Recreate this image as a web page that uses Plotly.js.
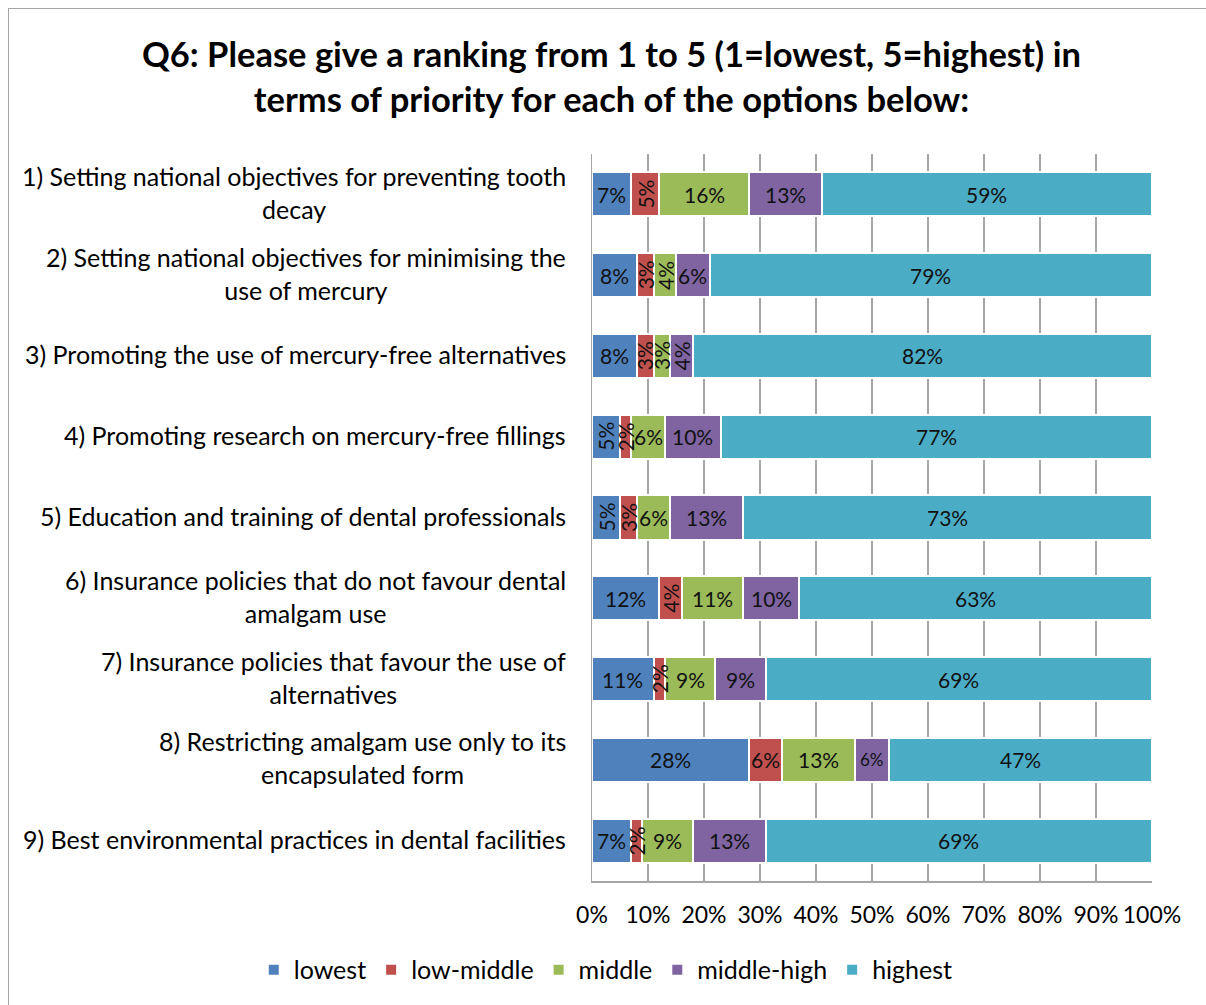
<!DOCTYPE html>
<html>
<head>
<meta charset="utf-8">
<script src="https://cdn.plot.ly/plotly-3.0.1.min.js"></script>
<style>
html,body{margin:0;padding:0;background:#fff;overflow:hidden;}
#chart{width:1206px;height:1005px;}
#frame{position:absolute;left:8px;top:8px;width:1220px;height:1010px;border:1.5px solid #a6a6a6;pointer-events:none;}
</style>
</head>
<body>
<div id="chart"></div>
<div id="frame"></div>
<script>
const categories = [
  "1) Setting national objectives for preventing tooth<br>decay",
  "2) Setting national objectives for minimising the<br>use of mercury",
  "3) Promoting the use of mercury-free alternatives",
  "4) Promoting research on mercury-free fillings",
  "5) Education and training of dental professionals",
  "6) Insurance policies that do not favour dental<br>amalgam use",
  "7) Insurance policies that favour the use of<br>alternatives",
  "8) Restricting amalgam use only to its<br>encapsulated form",
  "9) Best environmental practices in dental facilities"
];
const seriesNames = ["lowest", "low-middle", "middle", "middle-high", "highest"];
const lowest     = [7, 8, 8, 5, 5, 12, 11, 28, 7];
const lowMiddle  = [5, 3, 3, 2, 3, 4, 2, 6, 2];
const middle     = [16, 4, 3, 6, 6, 11, 9, 13, 9];
const middleHigh = [13, 6, 4, 10, 13, 10, 9, 6, 13];
const highest    = [59, 79, 82, 77, 73, 63, 69, 47, 69];
const xTicks = [0, 10, 20, 30, 40, 50, 60, 70, 80, 90, 100];
const xTickLabels = ["0%", "10%", "20%", "30%", "40%", "50%", "60%", "70%", "80%", "90%", "100%"];

const colors = ["#4f81bd", "#c0504d", "#9bbb59", "#8064a2", "#4bacc6"];
const series = [lowest, lowMiddle, middle, middleHigh, highest];
const FONT = "Lato, 'Open Sans', sans-serif";

const traces = series.map((vals, i) => ({
  type: "bar",
  orientation: "h",
  name: seriesNames[i],
  y: categories,
  x: vals,
  marker: {color: colors[i], line: {color: "#ffffff", width: 2}},
  hoverinfo: "x+y+name"
}));

const annotations = [];
categories.forEach((cat, r) => {
  let cum = 0;
  series.forEach((vals, i) => {
    const v = vals[r];
    const mid = cum + v / 2;
    cum += v;
    const rot = v <= 5;
    annotations.push({
      x: mid, y: cat, xref: "x", yref: "y",
      text: v + "%", showarrow: false,
      textangle: rot ? -90 : 0,
      font: {family: FONT, size: (v === 6 && r === 7 && i === 3) ? 17 : 21, color: "#111"},
      xanchor: "center", yanchor: "middle"
    });
  });
  annotations.push({
    x: 0, y: cat, xref: "paper", yref: "y",
    xshift: -24, yshift: 2,
    text: cat, showarrow: false, align: "center",
    xanchor: "right", yanchor: "middle",
    font: {family: FONT, size: 25, color: "#000"}
  });
});

const layout = {
  width: 1206, height: 1005,
  margin: {l: 592, r: 54, t: 154, b: 124, autoexpand: false},
  paper_bgcolor: "#ffffff", plot_bgcolor: "#ffffff",
  barmode: "stack", bargap: 0.455,
  title: {
    text: "<b>Q6: Please give a ranking from 1 to 5 (1=lowest, 5=highest) in<br>terms of priority for each of the options below:</b>",
    font: {family: FONT, size: 34.5, color: "#000"},
    x: 0.507, xref: "container", xanchor: "center",
    y: 0.933, yref: "container", yanchor: "middle"
  },
  xaxis: {
    range: [0, 100], tickvals: xTicks, ticktext: xTickLabels,
    showgrid: true, gridcolor: "#a6a6a6", gridwidth: 1.5,
    showline: true, linecolor: "#a6a6a6", linewidth: 1.5,
    zeroline: false, ticks: "", ticklabelstandoff: 13,
    tickfont: {family: FONT, size: 23, color: "#000"}, fixedrange: true
  },
  yaxis: {
    autorange: "reversed", showticklabels: false,
    showline: true, linecolor: "#a6a6a6", linewidth: 1.5,
    showgrid: false, zeroline: false, ticks: "", fixedrange: true
  },
  showlegend: true,
  legend: {
    orientation: "h", xref: "paper", yref: "paper",
    x: -0.604, xanchor: "left", y: -0.1224, yanchor: "middle",
    font: {family: FONT, size: 25, color: "#000"},
    itemwidth: 30, traceorder: "normal"
  },
  annotations: annotations
};

Plotly.newPlot("chart", traces, layout, {displayModeBar: false, staticPlot: true});
</script>
</body>
</html>
